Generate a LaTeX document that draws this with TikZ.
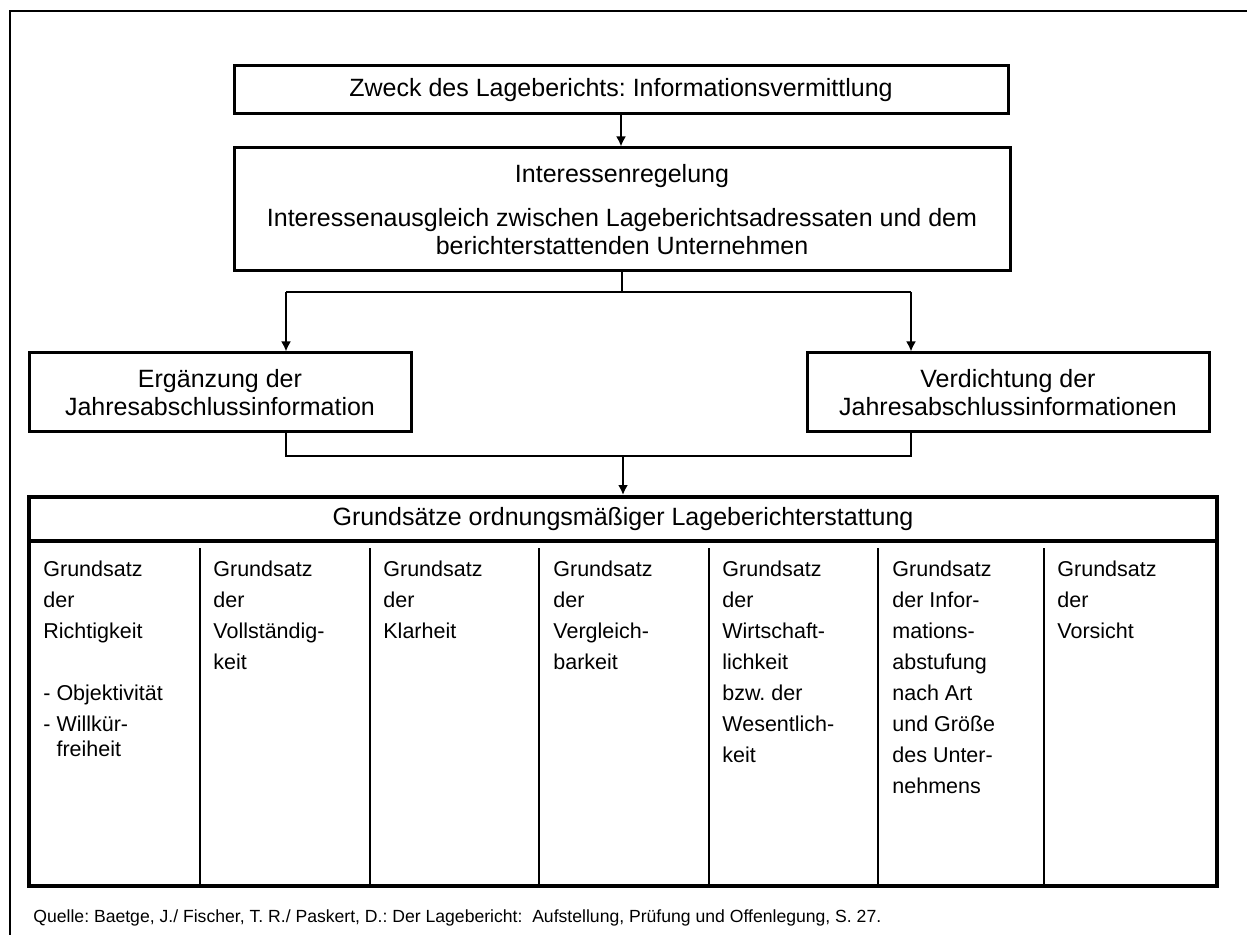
\documentclass[tikz,border=0pt]{standalone}
\usepackage{fontspec}
\setmainfont{Liberation Sans}
\usetikzlibrary{arrows.meta}

\begin{document}
\frenchspacing
\begin{tikzpicture}[
    x=0.5pt, y=-0.5pt,
    >={Latex[length=5pt,width=5pt]},
    box/.style={draw, line width=1.5pt, align=center, inner sep=0pt,
        font=\fontsize{12.5}{14}\selectfont},
    table/.style={draw, line width=2pt, inner sep=0pt},
    col/.style={anchor=north west, align=left, inner sep=0pt,
        font=\fontsize{10.75}{15.5}\selectfont},
    link/.style={line width=0.75pt},
    arrow/.style={->, line width=1.3pt}
]
    \useasboundingbox (0,0) rectangle (1247,935);

    % Outer frame (cut off by the page on the right and at the bottom)
    \draw[line width=1.2pt] (10,960) -- (10,11) -- (1270,11);

    % Boxes
    \node[box, minimum width=387pt, minimum height=24pt] (zweck) at (621,90)
        {Zweck des Lageberichts: Informationsvermittlung};
    \node[box, minimum width=388pt, minimum height=61.5pt] (interessen) at (622,209.5)
        {Interessenregelung\\[8pt]
         Interessenausgleich zwischen Lageberichtsadressaten und dem\\
         berichterstattenden Unternehmen};
    \node[box, minimum width=191pt, minimum height=39.5pt] (erg) at (220,392.5)
        {Ergänzung der\\Jahresabschlussinformation};
    \node[box, minimum width=201pt, minimum height=39.5pt] (verd) at (1008,392.5)
        {Verdichtung der\\Jahresabschlussinformationen};

    % Table of principles
    \node[table, minimum width=594pt, minimum height=22pt,
        font=\fontsize{12.5}{14}\selectfont] (kopf) at (623,519)
        {Grundsätze ordnungsmäßiger Lageberichterstattung};
    \node[table, minimum width=594pt, minimum height=172.5pt] (rumpf) at (623,713.5) {};
    \foreach \x in {200,370,539,709,878,1044}
        \draw[line width=1pt] (\x,548) -- (\x,886);

    \node[col] (c1) at (43,561)
        {Grundsatz\\der\\Richtigkeit\\[15.5pt]- Objektivität\\- Willkür-\\[-3pt]\phantom{- }freiheit};
    \node[col] (c2) at (213,561) {Grundsatz\\der\\Vollständig-\\keit};
    \node[col] (c3) at (383,561) {Grundsatz\\der\\Klarheit};
    \node[col] (c4) at (553,561) {Grundsatz\\der\\Vergleich-\\barkeit};
    \node[col] (c5) at (722,561)
        {Grundsatz\\der\\Wirtschaft-\\lichkeit\\bzw. der\\Wesentlich-\\keit};
    \node[col] (c6) at (892,561)
        {Grundsatz\\der Infor-\\mations-\\abstufung\\nach Art\\und Größe\\des Unter-\\nehmens};
    \node[col] (c7) at (1057,561) {Grundsatz\\der\\Vorsicht};

    % Connectors
    \coordinate (teilL) at (286,292);
    \coordinate (teilR) at (911,292);
    \coordinate (sammelL) at (286,456);
    \coordinate (sammelR) at (911,456);

    \draw[arrow] (zweck.south) -- (zweck.south |- interessen.north);
    \draw[link] (interessen.south) -- (interessen.south |- teilL);
    \draw[link] (teilL) -- (teilR);
    \draw[arrow] (teilL) -- (teilL |- erg.north);
    \draw[arrow] (teilR) -- (teilR |- verd.north);
    \draw[link] (sammelL |- erg.south) -- (sammelL) -- (sammelR) -- (sammelR |- verd.south);
    \draw[arrow] (kopf.north |- sammelL) -- (kopf.north);

    % Source
    \node[anchor=base west, inner sep=0pt, font=\fontsize{8.8}{10}\selectfont] (quelle) at (33,922)
        {Quelle: Baetge, J./ Fischer, T. R./ Paskert, D.: Der Lagebericht: \ Aufstellung, Prüfung und Offenlegung, S.~27.};

\end{tikzpicture}
\end{document}
